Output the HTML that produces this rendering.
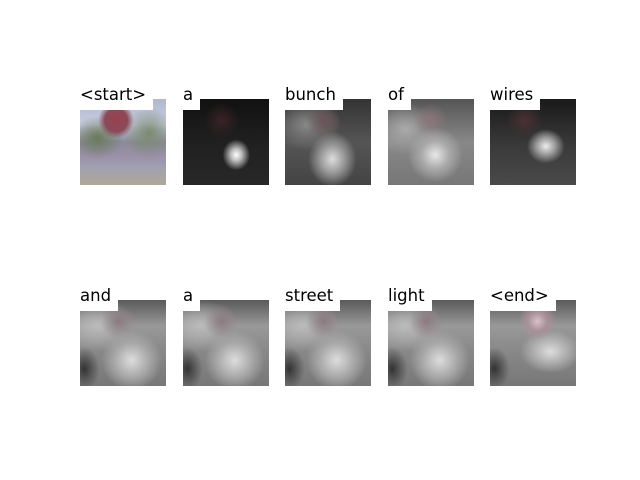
<!DOCTYPE html>
<html><head><meta charset="utf-8"><style>
body{margin:0;width:640px;height:480px;background:#fff;position:relative;overflow:hidden;font-family:"DejaVu Sans","Liberation Sans",sans-serif}
.p{position:absolute;width:86px;height:86px;overflow:hidden}
.l{position:absolute;background:#fff;font-size:16.5px;line-height:19px;height:26px;padding-right:7px;color:#000;white-space:nowrap}
</style></head><body>
<script>
const words=["<start>","a","bunch","of","wires","and","a","street","light","<end>"];
const xs=[80,183,285,388,490];
const ys=[99,300];
const bgs=[
"radial-gradient(circle at 42% 25%,#9a4050 0,#8a4a58 14%,transparent 22%),radial-gradient(ellipse 30% 30% at 80% 40%,#7a8a70 0,transparent 100%),radial-gradient(ellipse 30% 25% at 20% 45%,#6a7a5a 0,transparent 100%),linear-gradient(180deg,#b0b8d0 0%,#c8cce0 30%,#8a8a98 50%,#9a90a8 65%,#a0a0b0 80%,#b0a898 100%)",
"radial-gradient(ellipse 16% 18% at 62% 65%,#fff 0,#bbb 40%,transparent 100%),radial-gradient(circle at 45% 25%,#3a2226 0,transparent 22%),linear-gradient(180deg,#111 0%,#202020 50%,#282828 100%)",
"radial-gradient(ellipse 28% 32% at 55% 70%,#ddd 0,#999 50%,transparent 100%),radial-gradient(circle at 45% 25%,#6a5458 0,transparent 22%),radial-gradient(ellipse 40% 30% at 25% 30%,#888 0,transparent 100%),linear-gradient(180deg,#333 0%,#555 50%,#444 100%)",
"radial-gradient(ellipse 32% 32% at 55% 65%,#e8e8e8 0,#aaa 50%,transparent 100%),radial-gradient(circle at 50% 25%,#8a7478 0,transparent 22%),radial-gradient(ellipse 40% 30% at 20% 35%,#aaa 0,transparent 100%),linear-gradient(180deg,#555 0%,#888 50%,#777 100%)",
"radial-gradient(ellipse 22% 20% at 65% 55%,#eee 0,#999 50%,transparent 100%),radial-gradient(circle at 40% 25%,#4a3034 0,transparent 22%),linear-gradient(180deg,#1a1a1a 0%,#3a3a3a 55%,#4a4a4a 100%)"
];
const g2="radial-gradient(ellipse 35% 35% at 60% 70%,#ddd 0,#aaa 55%,transparent 100%),radial-gradient(circle at 45% 25%,#8a7a80 0,transparent 22%),radial-gradient(ellipse 45% 30% at 20% 30%,#bbb 0,transparent 100%),radial-gradient(ellipse 18% 25% at 5% 80%,#333 0,transparent 100%),linear-gradient(180deg,#5a5a5a 0%,#999 30%,#888 60%,#777 100%)";
const g3="radial-gradient(circle at 55% 25%,#d8c0c8 0,#a89098 12%,transparent 24%),radial-gradient(ellipse 35% 25% at 70% 60%,#ddd 0,transparent 100%),radial-gradient(ellipse 18% 25% at 5% 80%,#333 0,transparent 100%),linear-gradient(180deg,#5a5a5a 0%,#999 30%,#888 60%,#777 100%)";
words.forEach((w,i)=>{
  const x=xs[i%5],y=ys[Math.floor(i/5)];
  const p=document.createElement('div');p.className='p';
  
  
  p.style.left=x+'px';p.style.top=y+'px';
  p.style.background=i<5?bgs[i]:(i===9?g3:g2);
  document.body.appendChild(p);
  const l=document.createElement('div');l.className='l';
  
  
  l.style.left=x+'px';l.style.top=(y-14)+'px';
  l.style.height='25px';
  l.textContent=w;
  document.body.appendChild(l);
});
</script>
</body></html>
